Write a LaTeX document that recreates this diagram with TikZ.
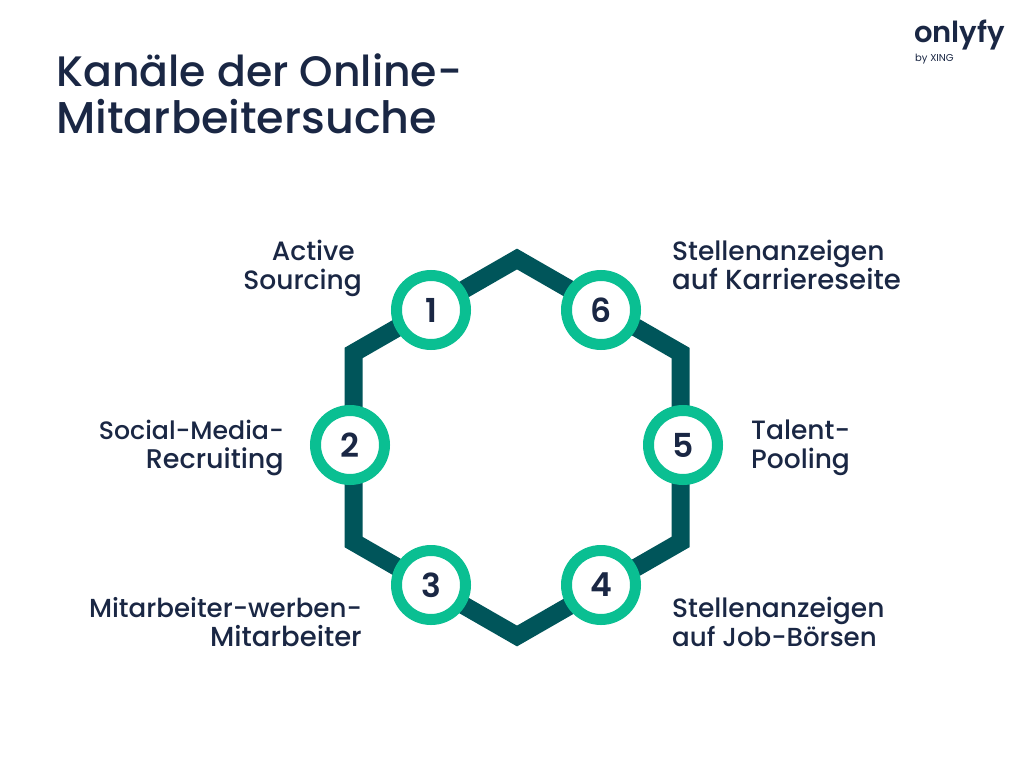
\documentclass[tikz,border=0pt]{standalone}
\usepackage{fontspec}
\setmainfont{Poppins}
\newfontfamily\med{Poppins Medium}
\newfontfamily\semi{Poppins SemiBold}
\newcommand{\sz}[1]{\fontsize{#1}{29}\selectfont}
\definecolor{navy}{HTML}{1A2744}
\definecolor{hexteal}{HTML}{00555A}
\definecolor{ringgreen}{HTML}{0ABF92}
\tikzset{
  ringnode/.style={circle,draw=ringgreen,line width=11pt,fill=white,minimum size=69pt,inner sep=0pt,text=navy,font=\semi\fontsize{33}{33}\selectfont},
  lbl/.style={inner sep=0pt,text=navy,font=\med\fontsize{26.5}{29}\selectfont,align=#1},
  lbl/.default=left
}
\begin{document}
\begin{tikzpicture}[x=1pt,y=-1pt]
\useasboundingbox (0,0) rectangle (1024,768);
\fill[white] (0,0) rectangle (1024,768);
\coordinate (t) at (517,259);
\coordinate (ur) at (680.5,353);
\coordinate (lr) at (680.5,542);
\coordinate (b) at (517,636);
\coordinate (ll) at (353.5,542);
\coordinate (ul) at (353.5,353);
\draw[hexteal,line width=18pt,miter limit=10] (t)--(ur)--(lr)--(b)--(ll)--(ul)--cycle;
\node[ringnode] (n1) at (431,310) {1};
\node[ringnode] (n6) at (601,310) {6};
\node[ringnode] (n2) at (350,445) {2};
\node[ringnode] (n5) at (683,445) {5};
\node[ringnode] (n3) at (431,585) {3};
\node[ringnode] (n4) at (601,585) {4};
\node[inner sep=0pt,anchor=base west,align=left,text=navy,font=\med\fontsize{43.5}{47}\selectfont] (title) at (56,133) {\fontsize{42.6}{47}\selectfont Kanäle der Online-\\\fontsize{44.5}{47}\selectfont Mitarbeitersuche};
\node[lbl=right,anchor=base east] (l1) at (362,289) {Active\hspace*{7pt}\\Sourcing};
\node[lbl=right,anchor=base east] (l2) at (284,468) {\sz{25.2}Social-Media-\\\sz{27}Recruiting};
\node[lbl=right,anchor=base east] (l3) at (362,646) {\sz{26.1}Mitarbeiter-werben-\\\sz{27.5}Mitarbeiter};
\node[lbl,anchor=base west] (l6) at (672,289) {Stellenanzeigen\\\sz{27.6}auf Karriereseite};
\node[lbl,anchor=base west] (l5) at (751,468) {Talent-\\Pooling};
\node[lbl,anchor=base west] (l4) at (672,646) {Stellenanzeigen\\\sz{26.1}auf Job-Börsen};
\node[inner sep=0pt,anchor=base west,text=navy,font=\semi\fontsize{29}{29}\selectfont] (logo) at (914,43) {onlyfy};
\node[inner sep=0pt,anchor=base west,text=navy,font=\fontsize{10}{10}\selectfont] (by) at (915,61) {by XING};
\end{tikzpicture}
\end{document}
